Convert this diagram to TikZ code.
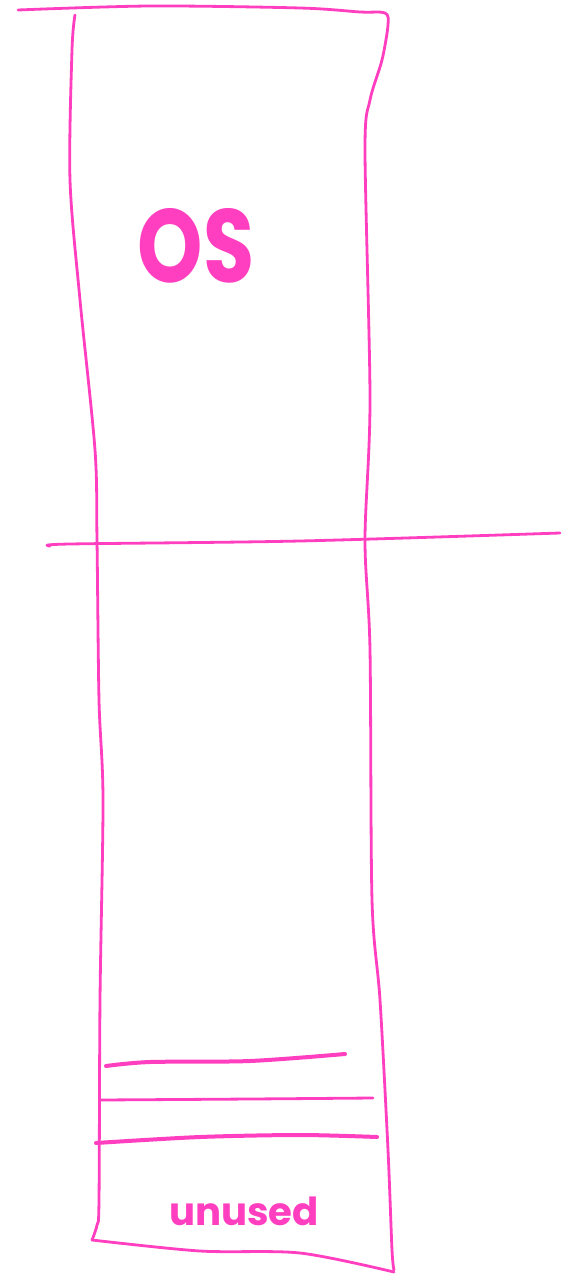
\documentclass[tikz,border=0pt]{standalone}
\usepackage{fontspec}
\setmainfont{Poppins}
\definecolor{pinkink}{HTML}{FF3FBF}
\begin{document}
\begin{tikzpicture}[x=0.75pt,y=-0.75pt,
  ink/.style={draw=pinkink,line width=2.1pt,line cap=round,line join=round},
  thick ink/.style={ink,line width=3pt},
  label/.style={text=pinkink,inner sep=0pt}]
\useasboundingbox (0,0) rectangle (562,1276);
% left wall
\draw[ink] plot[smooth,tension=0.5] coordinates {(75,15) (72,50) (70,180) (80,300) (95,450) (97,540) (99,700) (103,800) (100,1000) (99,1200) (97,1225) (92,1240)};
% top and right wall
\draw[ink] plot[smooth,tension=0.5] coordinates {(18,10) (150,6) (300,8) (360,12) (385,13) (388,25) (382,60) (370,100) (365,150) (370,400) (365,540) (370,650) (372,900) (380,1000) (388,1150) (392,1250) (394,1270)};
% bottom
\draw[ink] plot[smooth,tension=0.5] coordinates {(92,1240) (200,1251) (300,1253) (394,1272)};
% divider
\draw[ink] plot[smooth,tension=0.5] coordinates {(50,546) (70,544) (300,541) (560,533)};
% lower lines
\draw[thick ink] plot[smooth,tension=0.5] coordinates {(106,1066) (150,1062) (250,1061) (345,1054)};
\draw[ink] plot[smooth,tension=0.5] coordinates {(100,1100) (250,1099) (373,1098)};
\draw[thick ink] plot[smooth,tension=0.5] coordinates {(96,1143) (200,1137) (300,1135) (377,1137)};
\node[label,font=\fontsize{78}{80}\selectfont\bfseries,xscale=0.8] (os) at (196,246) {OS};
\node[label,font=\fontsize{29}{31}\selectfont\bfseries] (unused) at (244,1211) {unused};
\end{tikzpicture}
\end{document}
